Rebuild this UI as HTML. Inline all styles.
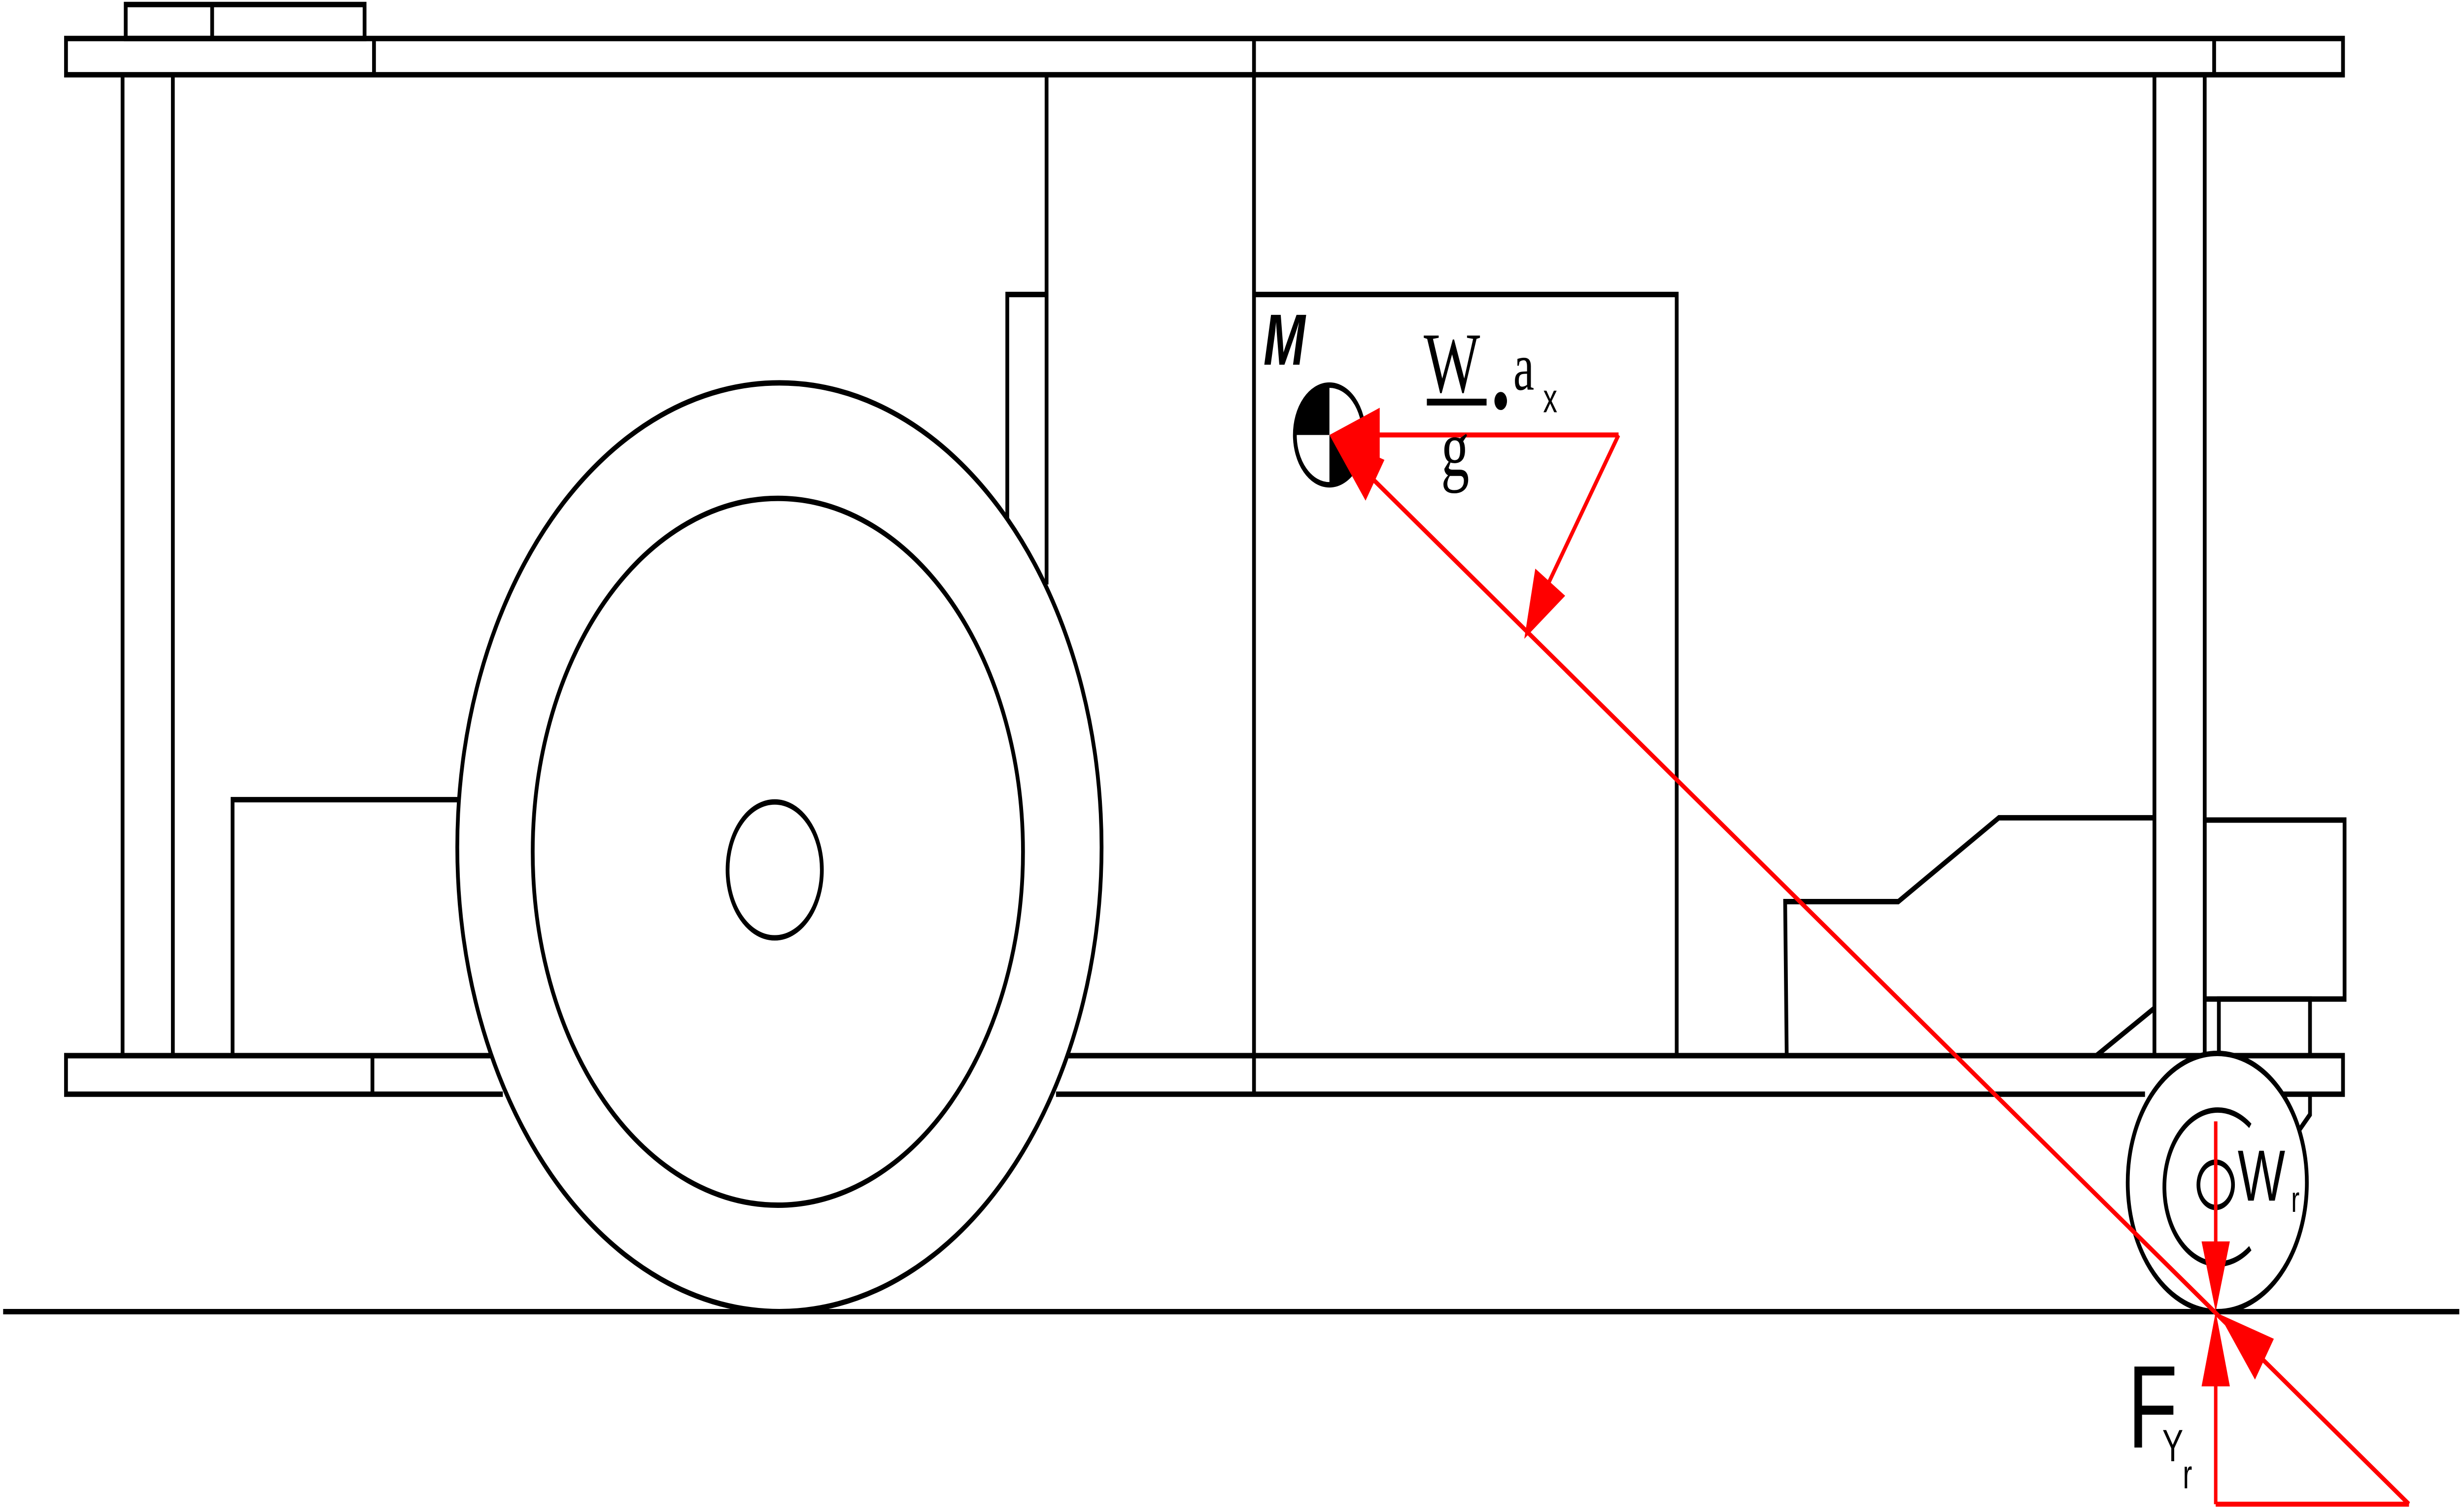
<!DOCTYPE html>
<html><head><meta charset="utf-8"><style>html,body{margin:0;padding:0;background:#fff;width:100%;height:100%;overflow:hidden}svg{display:block;position:fixed;left:0;top:0;width:100vw;height:100vh}</style></head>
<body>
<svg viewBox="0 0 1568 667" preserveAspectRatio="none" xmlns="http://www.w3.org/2000/svg">
<rect width="1568" height="667" fill="#fff"/>
<g fill="none" stroke="#000" stroke-width="2.4">
<rect x="80" y="2" width="152" height="15"/><line x1="135" y1="2" x2="135" y2="17"/>
<rect x="42" y="17" width="1449" height="16"/>
<line x1="238" y1="17" x2="238" y2="33"/><line x1="798" y1="17" x2="798" y2="33"/><line x1="1409" y1="17" x2="1409" y2="33"/>
<line x1="78" y1="33" x2="78" y2="466"/><line x1="110" y1="33" x2="110" y2="466"/>
<line x1="1371" y1="33" x2="1371" y2="466"/><line x1="1403" y1="33" x2="1403" y2="466"/>
<line x1="666" y1="33" x2="666" y2="258"/>
<polyline points="641,229 641,130 666,130"/>
<line x1="798" y1="33" x2="798" y2="483"/>
<polyline points="798,130 1067,130 1067,466"/>
<polyline points="320,466 42,466 42,483 320,483"/>
<line x1="237" y1="466" x2="237" y2="483"/>
<polyline points="680,466 1491,466 1491,483 1452,483"/>
<line x1="672" y1="483" x2="1365" y2="483"/>
<polyline points="292,353 148,353 148,466"/>
<polyline points="1137,466 1136,398 1208,398 1272,361 1371,361"/>
<line x1="1334" y1="466" x2="1371" y2="445"/>
<rect x="1403" y="362" width="89" height="79"/>
<polyline points="1412,466 1412,441 1470,441 1470,466"/>
<polyline points="1470,483 1470,492 1462,500"/>
</g>
<g fill="#fff" stroke="#000" stroke-width="2.4">
<circle cx="496" cy="374" r="205"/>
<circle cx="495" cy="376" r="156"/>
<circle cx="493" cy="384" r="30"/>
<circle cx="1411" cy="522" r="57"/>
<path d="M1432,497 A34,34 0 1 0 1432,551" fill="none"/>
<ellipse cx="1410" cy="523" rx="11" ry="10"/>
</g>
<line x1="2" y1="579" x2="1565" y2="579" stroke="#000" stroke-width="2.4"/>
<circle cx="846" cy="192" r="22" fill="#fff" stroke="#000" stroke-width="2.4"/>
<path d="M846,192 L846,170 A22,22 0 0 0 824,192 Z" fill="#000"/>
<path d="M846,192 L846,214 A22,22 0 0 0 868,192 Z" fill="#000"/>
<g stroke="#f00" stroke-width="2.2" fill="none">
<line x1="875" y1="192" x2="1030" y2="192"/>
<line x1="1030" y1="192" x2="985" y2="258"/>
<line x1="870" y1="209" x2="1533" y2="664"/>
<line x1="1410" y1="495" x2="1410" y2="550"/>
<line x1="1410" y1="610" x2="1410" y2="664"/>
<line x1="1410" y1="664" x2="1533" y2="664"/>
</g>
<g fill="#f00">
<polygon points="846,192 878,180 878,204"/>
<polygon points="970,282 977,251 996,263"/>
<polygon points="846,192 869,221 881,203"/>
<polygon points="1410,579 1401,548 1419,548"/>
<polygon points="1410,579 1401,612 1419,612"/>
<polygon points="1412,580 1435,609 1447,591"/>
</g>
<g font-family="Liberation Sans, sans-serif" fill="#000">
<text x="804" y="161" font-size="32" font-weight="bold" font-style="italic">M</text>
<text x="906" y="173" font-size="38" font-family="Liberation Serif, serif">W</text>
<rect x="908" y="176" width="38" height="3"/>
<text x="917" y="210" font-size="36" font-family="Liberation Serif, serif">g</text>
<circle cx="955" cy="177" r="4"/>
<text x="963" y="172" font-size="30" font-family="Liberation Serif, serif">a</text>
<text x="982" y="182" font-size="18">x</text>
<text x="1424" y="530" font-size="32">W</text>
<text x="1458" y="535" font-size="16">r</text>
<text x="1354" y="639" font-size="52">F</text>
<text x="1376" y="645" font-size="20">Y</text>
<text x="1389" y="657" font-size="18">r</text>
</g>
</svg>
</body></html>
